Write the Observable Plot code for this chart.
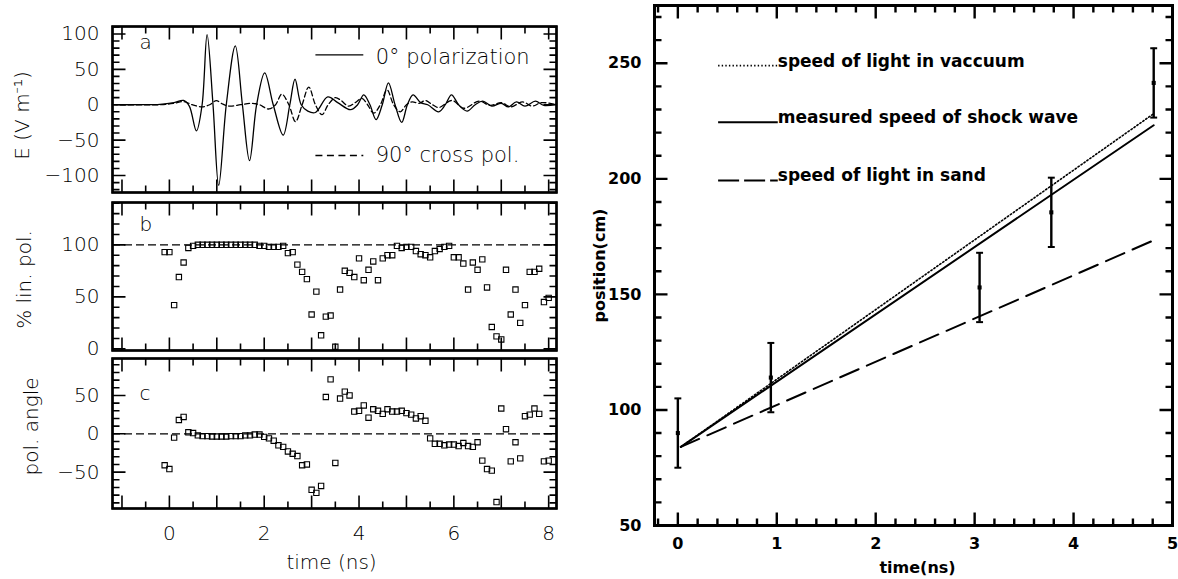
<!DOCTYPE html>
<html><head><meta charset="utf-8">
<script src="https://cdn.jsdelivr.net/npm/d3@7"></script>
<script src="https://cdn.jsdelivr.net/npm/@observablehq/plot@0.6"></script>
<style>
html,body{margin:0;padding:0;background:#fff;}
#chart{position:relative;width:1178px;height:579px;overflow:hidden;background:#fff;}
#chart svg{position:absolute;overflow:visible;background:transparent;max-width:none;}
</style></head><body><div id="chart"></div>
<script>
// ---------- data: panel a (field waveforms) ----------
const solidT = [-1.2,-0.6,-0.2,0.1,0.3,0.42,0.57,0.69,0.795,0.92,1.04,1.2,1.39,1.54,1.69,1.84,2.01,2.19,2.4,2.54,2.65,2.78,2.92,3.08,3.34,3.55,3.82,3.97,4.1,4.23,4.36,4.49,4.62,4.76,4.9,5.02,5.14,5.3,5.45,5.68,5.82,5.95,6.1,6.28,6.45,6.61,6.8,7.0,7.15,7.32,7.5,7.72,7.9,8.165];
const solidE = [0,0,0.5,3,6,-2,-37,0,99,0,-114,0,83,0,-79,0,45,0,-43,0,36,0,-9,-11,11,3,-7,0,14,0,-21,0,31,0,-25,0,14,3,0,-10,0,14,0,-9,0,5,-2,2,-3,4,-2,5,-1,1];
const crossT = [-1.2,-0.2,0.1,0.3,0.48,0.69,0.85,0.99,1.12,1.27,1.5,1.71,1.88,2.1,2.24,2.37,2.52,2.66,2.8,2.94,3.08,3.22,3.35,3.5,3.62,3.78,3.92,4.06,4.18,4.31,4.45,4.59,4.73,4.87,5.0,5.12,5.27,5.4,5.55,5.68,5.96,6.21,6.53,6.77,7.0,7.2,7.45,7.65,7.85,8.165];
const crossE = [0,0,2,4.5,0,-3,0,5.7,1,-2,0,2,0.5,-6,0,15,0,-24,0,25,0,-14,0,10,6,-2,3,9,0,-12,0,21,0,-10,0,4,2,6,0,-4,6,-5,5,-1,3,-3,4,-2,3,0];

// ---------- data: panels b and c (sampled every 0.1 ns) ----------
const scatterT = [-0.1,0,0.1,0.2,0.3,0.4,0.5,0.6,0.7,0.8,0.9,1,1.1,1.2,1.3,1.4,1.5,1.6,1.7,1.8,1.9,2,2.1,2.2,2.3,2.4,2.5,2.6,2.7,2.8,2.9,3,3.1,3.2,3.3,3.4,3.5,3.6,3.7,3.8,3.9,4,4.1,4.2,4.3,4.4,4.5,4.6,4.7,4.8,4.9,5,5.1,5.2,5.3,5.4,5.5,5.6,5.7,5.8,5.9,6,6.1,6.2,6.3,6.4,6.5,6.6,6.7,6.8,6.9,7,7.1,7.2,7.3,7.4,7.5,7.6,7.7,7.8,7.9,8];
const linPol = [93,93,42,69,83,97,99,100,100,100,100,
  100,100,100,100,100,100,100,100,100,99,
  99,98,98,98,99,92,93,81,74,67,
  33,55,13,31,32,2,57,75,73,69,
  87,66,76,84,66,87,90,90,99,97,
  98,98,94,91,90,88,94,96,98,99,
  88,88,82,57,83,76,86,59,21,12,
  9,76,33,57,25,42,74,74,77,45,49];
const polAngle = [-41,-46,-5,18,22,2,1,-2,-3,-3,-3.5,
  -3.5,-3.5,-3.5,-3,-3,-3,-2,-2,-1,-1,
  -4,-6,-9,-15,-17,-23,-26,-29,-41,-40,
  -73,-77,-68,48,71,-38,46,55,50,29,
  30,37,21,32,30,26,32,29,29,30,
  27,25,20,23,17,-6,-13,-13,-15,-14,
  -14,-16,-12,-16,-17,-11,-35,-46,-48,-89,
  33,6,-36,-11,-32,23,25,33,26,-36,-35];

// ---------- data: right panel ----------
const rpTime = [0, 0.94, 3.05, 3.775, 4.81];
const rpPos = [90, 114, 153, 185.5, 241.5];
const rpErr = [15, 15, 15, 15, 15];
const fitTime = [0.03, 4.81];
const vacuumPos = [84, 228.2];
const measuredPos = [84, 223.2];
const sandPos = [84, 173.4];

// ---------- tick labels ----------
const timeLabels = [0, 2, 4, 6, 8];
const aLabels = [-100, -50, 0, 50, 100];
const bLabels = [0, 50, 100];
const cLabels = [-50, 0, 50];
const rxLabels = [0, 1, 2, 3, 4, 5];
const ryLabels = [50, 100, 150, 200, 250];
const legendLabelsA = ["0° polarization", "90° cross pol."];
const legendLabelsR = ["speed of light in vaccuum", "measured speed of shock wave", "speed of light in sand"];

// ---------- helpers ----------
const chart = document.getElementById("chart");
function place(svg, left, top) { svg.style.left = left + "px"; svg.style.top = top + "px"; chart.appendChild(svg); }

// inward ticks drawn as "comb" polylines running along each frame edge (px lengths -> data units)
function combTicks(xDom, yDom, W, H, xTicks, yTicks, sw) {
  const [lo, hi] = xDom, [bot, top] = yDom;
  const kx = (hi - lo) / W, ky = (top - bot) / H;
  const pts = [];
  const xs = [...xTicks].sort((a, b) => a[0] - b[0]);
  const ys = [...yTicks].sort((a, b) => a[0] - b[0]);
  for (const [side, base, dir] of [["b", bot, 1], ["t", top, -1]]) {
    pts.push({s: side, x: lo, y: base});
    for (const [v, len] of xs) {
      pts.push({s: side, x: v, y: base});
      pts.push({s: side, x: v, y: base + dir * len * ky});
      pts.push({s: side, x: v, y: base});
    }
    pts.push({s: side, x: hi, y: base});
  }
  for (const [side, base, dir] of [["l", lo, 1], ["r", hi, -1]]) {
    pts.push({s: side, x: base, y: bot});
    for (const [v, len] of ys) {
      pts.push({s: side, x: base, y: v});
      pts.push({s: side, x: base + dir * len * kx, y: v});
      pts.push({s: side, x: base, y: v});
    }
    pts.push({s: side, x: base, y: top});
  }
  return Plot.line(pts, {x: "x", y: "y", z: "s", stroke: "black", strokeWidth: sw, strokeLinejoin: "miter", curve: "linear"});
}
const withLen = (vals, len) => vals.map(v => [v, len]);

const LFONT = '"DejaVu Sans", "Noto Sans", sans-serif';
const timeDomain = [-1.2, 8.165];
const tMaj = [-1, 0, 1, 2, 3, 4, 5, 6, 7, 8];
const tMin = [-0.5, 0.5, 1.5, 2.5, 3.5, 4.5, 5.5, 6.5, 7.5];
const LW = 444;

function leftPanel({height, mt, mb, yDomain, yMaj, yMin, yLabels, marks, title, titleDx, titleDy, letter, letterDy, showX}) {
  const H = height - mt - mb;
  return Plot.plot({
    width: 560, height, marginLeft: 112, marginRight: 4, marginTop: mt, marginBottom: mb,
    style: {fontFamily: LFONT, fontSize: "20px", fontWeight: 200, background: "transparent", color: "black", overflow: "visible"},
    x: {domain: timeDomain, label: null, axis: null},
    y: {domain: yDomain, label: null, axis: null},
    marks: [
      ...marks,
      combTicks(timeDomain, yDomain, LW, H, [...withLen(tMaj, 13), ...withLen(tMin, 7)], [...withLen(yMaj, 13), ...withLen(yMin, 7)], 1.6),
      Plot.axisY(yLabels, {anchor: "left", tickSize: 0, tickPadding: 13, label: null}),
      showX ? Plot.axisX(timeLabels, {anchor: "bottom", tickSize: 0, tickPadding: 17, label: null}) : null,
      showX ? Plot.text(["time (ns)"], {frameAnchor: "bottom", dx: -3, dy: 60, lineAnchor: "bottom", fontSize: 20}) : null,
      Plot.text([title], {frameAnchor: "left", rotate: -90, dx: titleDx, dy: titleDy, textAnchor: "middle", lineAnchor: "bottom", fontSize: 20}),
      Plot.text([letter], {frameAnchor: "top-left", dx: 27, dy: letterDy, textAnchor: "start", lineAnchor: "bottom", fontSize: 20}),
      Plot.frame({stroke: "black", strokeWidth: 2.6})
    ]
  });
}

// ---------- panel a ----------
const solidData = solidT.map((t, i) => ({t, e: solidE[i]}));
const crossData = crossT.map((t, i) => ({t, e: crossE[i]}));
place(leftPanel({
  height: 200, mt: 26, mb: 8, yDomain: [-124, 110.5],
  yMaj: [-100, -50, 0, 50, 100], yMin: [-120,-110,-90,-80,-70,-60,-40,-30,-20,-10,10,20,30,40,60,70,80,90,110], yLabels: aLabels,
  title: "E (V m⁻¹)", titleDx: -84, titleDy: 6, letter: "a", letterDy: 22, showX: false,
  marks: [
    Plot.line(crossData, {x: "t", y: "e", stroke: "black", strokeWidth: 1.3, strokeDasharray: "5,3", curve: "catmull-rom"}),
    Plot.line(solidData, {x: "t", y: "e", stroke: "black", strokeWidth: 1.3, curve: "catmull-rom"}),
    Plot.link([0], {x1: 3.08, x2: 4.09, y1: 70.4, y2: 70.4, stroke: "black", strokeWidth: 1.3}),
    Plot.link([0], {x1: 3.08, x2: 4.09, y1: -71.7, y2: -71.7, stroke: "black", strokeWidth: 1.3, strokeDasharray: "7,4.5"}),
    Plot.text([legendLabelsA[0]], {x: 4.35, y: 57.7, textAnchor: "start", lineAnchor: "bottom", fontSize: 21}),
    Plot.text([legendLabelsA[1]], {x: 4.35, y: -81.2, textAnchor: "start", lineAnchor: "bottom", fontSize: 21})
  ]
}), 0, 0);

// ---------- panel b ----------
const bData = scatterT.map((t, i) => ({t, v: linPol[i]}));
place(leftPanel({
  height: 160, mt: 6, mb: 6, yDomain: [-1.6, 140.7],
  yMaj: [0, 50, 100], yMin: [10,20,30,40,60,70,80,90,110,120,130,140], yLabels: bLabels,
  title: "% lin. pol.", titleDx: -82, titleDy: 3, letter: "b", letterDy: 28, showX: false,
  marks: [
    Plot.ruleY([100], {stroke: "black", strokeWidth: 1.2, strokeDasharray: "8,4"}),
    Plot.dot(bData, {x: "t", y: "v", symbol: "square", r: 3, stroke: "black", strokeWidth: 1.1, fill: "none"})
  ]
}), 0, 196);

// ---------- panel c ----------
const cData = scatterT.map((t, i) => ({t, v: polAngle[i]}));
place(leftPanel({
  height: 227, mt: 6, mb: 71, yDomain: [-97.4, 98.2],
  yMaj: [-50, 0, 50], yMin: [-90,-80,-70,-60,-40,-30,-20,-10,10,20,30,40,60,70,80,90], yLabels: cLabels,
  title: "pol. angle", titleDx: -75, titleDy: -7, letter: "c", letterDy: 41, showX: true,
  marks: [
    Plot.ruleY([0], {stroke: "black", strokeWidth: 1.2, strokeDasharray: "8,4"}),
    Plot.dot(cData, {x: "t", y: "v", symbol: "square", r: 3, stroke: "black", strokeWidth: 1.1, fill: "none"})
  ]
}), 0, 352);

// ---------- right panel ----------
const RFONT = '"DejaVu Sans", sans-serif';
const rpData = rpTime.map((t, i) => ({t, pos: rpPos[i], lo: rpPos[i] - rpErr[i], hi: rpPos[i] + rpErr[i]}));
const mkLine = arr => fitTime.map((t, i) => ({t, p: arr[i]}));
const capHalf = 0.035;
const rxDomain = [-0.236, 5], ryDomain = [50, 275];
const RW = 518, RH = 520;
const rxMinor = [-0.2,0.2,0.4,0.6,0.8,1.2,1.4,1.6,1.8,2.2,2.4,2.6,2.8,3.2,3.4,3.6,3.8,4.2,4.4,4.6,4.8];
const ryMinor = [60,70,80,90,110,120,130,140,160,170,180,190,210,220,230,240,260,270];
const rightSvg = Plot.plot({
  width: 618, height: 579, marginLeft: 94, marginRight: 6, marginTop: 5, marginBottom: 54,
  style: {fontFamily: RFONT, fontSize: "16px", fontWeight: "bold", background: "transparent", color: "black", overflow: "visible"},
  x: {domain: rxDomain, label: null, axis: null},
  y: {domain: ryDomain, label: null, axis: null},
  marks: [
    Plot.line(mkLine(vacuumPos), {x: "t", y: "p", stroke: "black", strokeWidth: 1.6, strokeDasharray: "1.4,2.2"}),
    Plot.line(mkLine(measuredPos), {x: "t", y: "p", stroke: "black", strokeWidth: 2}),
    Plot.line(mkLine(sandPos), {x: "t", y: "p", stroke: "black", strokeWidth: 2, strokeDasharray: "20,9"}),
    Plot.ruleX(rpData, {x: "t", y1: "lo", y2: "hi", stroke: "black", strokeWidth: 2.4}),
    Plot.link(rpData, {x1: d => d.t - capHalf, x2: d => d.t + capHalf, y1: "lo", y2: "lo", stroke: "black", strokeWidth: 2}),
    Plot.link(rpData, {x1: d => d.t - capHalf, x2: d => d.t + capHalf, y1: "hi", y2: "hi", stroke: "black", strokeWidth: 2}),
    Plot.dot(rpData, {x: "t", y: "pos", symbol: "square", r: 2.3, fill: "black", stroke: "none"}),
    Plot.link([0], {x1: 0.407, x2: 1.01, y1: 249.0, y2: 249.0, stroke: "black", strokeWidth: 1.6, strokeDasharray: "1.4,2.2"}),
    Plot.link([0], {x1: 0.407, x2: 1.01, y1: 224.5, y2: 224.5, stroke: "black", strokeWidth: 2}),
    Plot.link([0], {x1: 0.407, x2: 1.01, y1: 199.3, y2: 199.3, stroke: "black", strokeWidth: 2, strokeDasharray: "21,5"}),
    Plot.text([legendLabelsR[0]], {x: 1.01, y: 249.0, textAnchor: "start", lineAnchor: "bottom", fontSize: 17, dy: 1}),
    Plot.text([legendLabelsR[1]], {x: 1.01, y: 224.5, textAnchor: "start", lineAnchor: "bottom", fontSize: 17, dy: 1}),
    Plot.text([legendLabelsR[2]], {x: 1.01, y: 199.3, textAnchor: "start", lineAnchor: "bottom", fontSize: 17, dy: 1}),
    combTicks(rxDomain, ryDomain, RW, RH,
      [...withLen([0, 1, 2, 3, 4], 13), ...withLen(rxMinor, 7)],
      [...withLen([100, 150, 200, 250], 13), ...withLen(ryMinor, 7)], 2.4),
    Plot.axisY(ryLabels, {anchor: "left", tickSize: 0, tickPadding: 13, label: null}),
    Plot.axisX(rxLabels, {anchor: "bottom", tickSize: 0, tickPadding: 12, label: null}),
    Plot.text(["time(ns)"], {frameAnchor: "bottom", dx: 4, dy: 47, lineAnchor: "bottom", fontSize: 16}),
    Plot.text(["position(cm)"], {frameAnchor: "left", rotate: -90, dx: -50, dy: 0, textAnchor: "middle", lineAnchor: "bottom", fontSize: 16}),
    Plot.frame({stroke: "black", strokeWidth: 3})
  ]
});
place(rightSvg, 560, 0);
</script></body></html>
